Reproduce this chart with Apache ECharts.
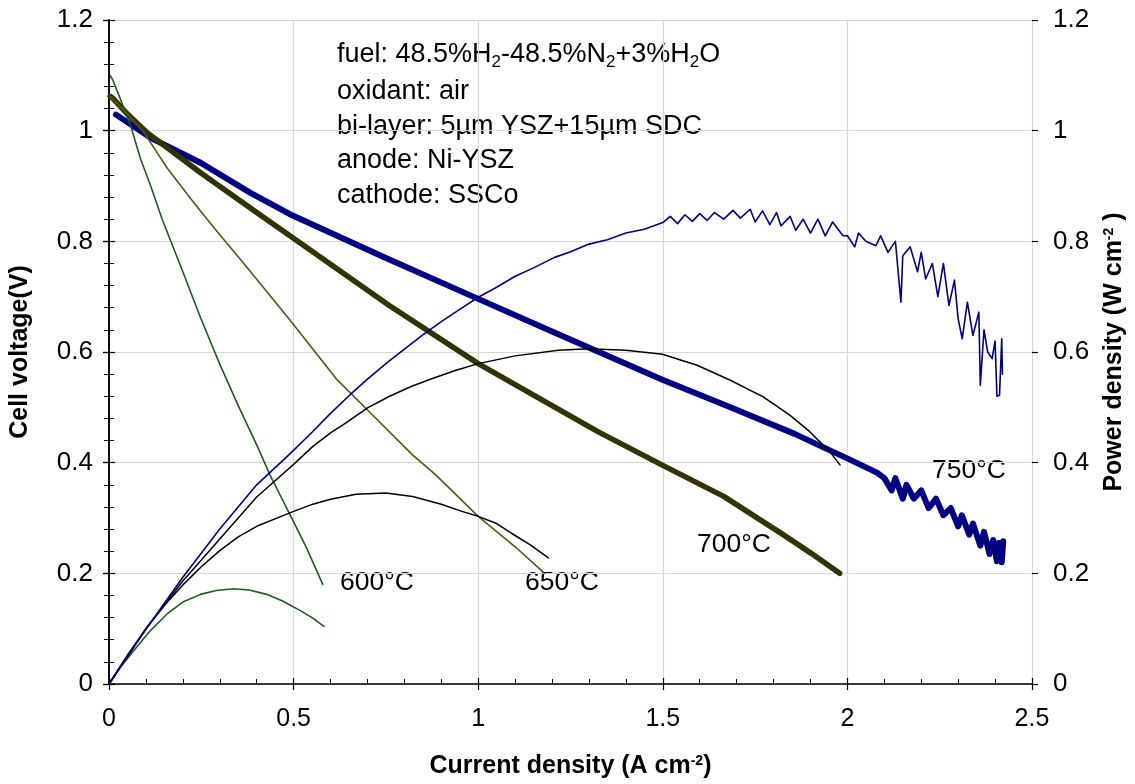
<!DOCTYPE html>
<html>
<head>
<meta charset="utf-8">
<script src="https://cdn.jsdelivr.net/npm/echarts/dist/echarts.min.js"></script>
<style>
html,body{margin:0;padding:0;background:#fff;}
#chart{width:1135px;height:784px;}
</style>
</head>
<body>
<div id="chart"></div>
<script>
// ---------- data ----------
const xTicks = [0, 0.5, 1, 1.5, 2, 2.5];
const yTicks = [0, 0.2, 0.4, 0.6, 0.8, 1, 1.2];

// 600 °C
const i600v = [0.003,0.01,0.028,0.059,0.086,0.113,0.144,0.2,0.248,0.3,0.35,0.4,0.436,0.463,0.5,0.535,0.579];
const v600  = [1.10,1.092,1.062,1.008,0.948,0.9,0.84,0.745,0.662,0.578,0.503,0.432,0.378,0.342,0.293,0.246,0.18];
const i600p = [0,0.03,0.068,0.11,0.158,0.2,0.248,0.29,0.337,0.38,0.427,0.47,0.517,0.55,0.582];
const p600  = [0,0.03,0.061,0.095,0.127,0.148,0.162,0.169,0.172,0.17,0.162,0.15,0.133,0.12,0.104];

// 650 °C
const i650v = [0.003,0.05,0.091,0.113,0.158,0.212,0.252,0.3,0.35,0.42,0.49,0.615,0.705,0.822,0.885,1.0,1.1,1.18];
const v650  = [1.062,1.03,1.0,0.978,0.932,0.885,0.851,0.812,0.772,0.715,0.658,0.552,0.492,0.414,0.378,0.303,0.248,0.2];
const i650p = [0,0.05,0.1,0.15,0.203,0.25,0.3,0.35,0.4,0.463,0.5,0.552,0.6,0.669,0.75,0.822,0.9,0.956,1.0,1.05,1.091,1.14,1.19];
const p650  = [0,0.052,0.1,0.142,0.181,0.212,0.241,0.266,0.285,0.302,0.312,0.325,0.334,0.343,0.345,0.339,0.325,0.312,0.303,0.29,0.272,0.252,0.228];

// 700 °C
const i700v = [0.003,0.01,0.05,0.104,0.248,0.4,0.49,0.759,1.0,1.324,1.5,1.665,1.826,1.9,1.979];
const v700  = [1.062,1.059,1.03,0.996,0.924,0.852,0.81,0.684,0.579,0.456,0.395,0.339,0.27,0.237,0.2];
const i700p = [0,0.1,0.2,0.3,0.4,0.463,0.5,0.55,0.6,0.642,0.7,0.76,0.82,0.876,0.94,1.0,1.1,1.217,1.297,1.4,1.499,1.593,1.683,1.772,1.844,1.898,1.952,1.98];
const p700  = [0,0.1,0.186,0.262,0.338,0.375,0.397,0.428,0.454,0.472,0.499,0.52,0.538,0.552,0.567,0.579,0.593,0.603,0.606,0.603,0.596,0.576,0.549,0.519,0.486,0.456,0.42,0.396];

// 750 °C
const i750v = [0.019,0.113,0.248,0.382,0.49,0.75,1.0,1.2,1.324,1.499,1.683,1.857,2.008,2.08,2.10,2.12,2.13,2.15,2.16,2.18,2.20,2.22,2.24,2.26,2.28,2.30,2.31,2.33,2.34,2.36,2.37,2.385,2.395,2.405,2.41,2.418,2.422];
const v750  = [1.029,0.987,0.942,0.888,0.849,0.77,0.696,0.637,0.601,0.55,0.5,0.452,0.405,0.382,0.372,0.35,0.372,0.335,0.36,0.335,0.35,0.318,0.335,0.305,0.318,0.285,0.305,0.27,0.29,0.25,0.275,0.235,0.26,0.222,0.255,0.22,0.258];
const i750p = [0,0.1,0.2,0.3,0.4,0.49,0.55,0.6,0.65,0.7,0.75,0.8,0.85,0.9,0.95,1.0,1.05,1.1,1.15,1.207,1.25,1.3,1.35,1.4,1.45,1.5,1.52,1.54,1.56,1.58,1.6,1.62,1.64,1.665,1.69,1.71,1.737,1.75,1.77,1.79,1.808,1.82,1.845,1.86,1.88,1.9,1.92,1.94,1.96,1.988,2.0,2.02,2.03,2.05,2.077,2.09,2.11,2.13,2.145,2.15,2.17,2.19,2.2,2.212,2.23,2.245,2.26,2.275,2.29,2.30,2.311,2.325,2.34,2.356,2.36,2.37,2.38,2.392,2.40,2.405,2.412,2.418,2.42];
const p750  = [0,0.099,0.193,0.28,0.36,0.416,0.455,0.489,0.521,0.551,0.579,0.605,0.631,0.655,0.677,0.699,0.717,0.737,0.752,0.771,0.781,0.795,0.803,0.815,0.822,0.834,0.845,0.832,0.848,0.836,0.85,0.838,0.852,0.84,0.856,0.842,0.858,0.835,0.855,0.83,0.852,0.828,0.845,0.82,0.84,0.815,0.84,0.81,0.835,0.81,0.81,0.79,0.815,0.8,0.792,0.81,0.78,0.8,0.69,0.774,0.79,0.745,0.78,0.732,0.76,0.70,0.76,0.684,0.73,0.66,0.624,0.69,0.63,0.672,0.54,0.64,0.6,0.588,0.62,0.52,0.522,0.624,0.56];

const tempLabels = ['600°C','650°C','700°C','750°C'];
const noteLines = ['oxidant: air','bi-layer: 5µm YSZ+15µm SDC','anode: Ni-YSZ','cathode: SSCo'];

// ---------- build ----------
const pairs = (xs, ys) => xs.map((x, k) => [x, ys[k]]);
const FONT = 'Liberation Sans, Arial, sans-serif';
const C750 = '#000080', C700 = '#333300', C650 = '#55551a', C600 = '#1e5a1e';

function line(name, xs, ys, color, width, yIdx, z) {
  return { name, type: 'line', xAxisIndex: 0, yAxisIndex: yIdx, data: pairs(xs, ys),
    showSymbol: false, symbol: 'none', smooth: false, animation: false, z: z,
    lineStyle: { color, width, join: 'round', cap: 'round' } };
}

const chart = echarts.init(document.getElementById('chart'), null, { renderer: 'canvas' });
const axisLine = { show: true, lineStyle: { color: '#000', width: 1.5 } };
const nameRich = {
  a: { fontFamily: FONT, fontSize: 25, fontWeight: 'bold', color: '#000' },
  s: { fontFamily: FONT, fontSize: 14, fontWeight: 'bold', color: '#000', verticalAlign: 'top', lineHeight: 14 }
};
const subRich = {
  a: { fontFamily: FONT, fontSize: 27, color: '#000', lineHeight: 31 },
  b: { fontFamily: FONT, fontSize: 17, color: '#000', lineHeight: 17, verticalAlign: 'bottom' }
};

const option = {
  backgroundColor: '#fff',
  animation: false,
  grid: { left: 108, right: 98, top: 20, bottom: 97, containLabel: false },
  xAxis: [
    { type: 'value', min: xTicks[0], max: xTicks[xTicks.length - 1], interval: 0.5, position: 'bottom',
      axisLine, axisTick: { show: true, inside: true, length: 6, lineStyle: { color: '#000', width: 1.2 } },
      minorTick: { show: true, splitNumber: 5, length: 5, lineStyle: { color: '#000', width: 1 } },
      splitLine: { show: true, lineStyle: { color: '#d6d6d6', width: 1.2 } },
      axisLabel: { margin: 23, formatter: v => String(v), color: '#000', fontFamily: FONT, fontSize: 25 },
      name: '{a|Current density (A cm}{s|-2}{a|)}', nameLocation: 'middle', nameGap: 70,
      nameTextStyle: { rich: nameRich } },
    { type: 'value', min: xTicks[0], max: xTicks[xTicks.length - 1], interval: 0.5, position: 'bottom',
      axisLine: { show: false }, axisLabel: { show: false }, splitLine: { show: false },
      axisTick: { show: true, inside: false, length: 6, lineStyle: { color: '#000', width: 1.2 } } }
  ],
  yAxis: [
    { type: 'value', min: yTicks[0], max: yTicks[yTicks.length - 1], interval: 0.2, position: 'left',
      axisLine, axisTick: { show: true, inside: true, length: 6, lineStyle: { color: '#000', width: 1.2 } },
      minorTick: { show: true, splitNumber: 5, length: 5, lineStyle: { color: '#000', width: 1 } },
      splitLine: { show: true, lineStyle: { color: '#d6d6d6', width: 1.2 } },
      axisLabel: { margin: 16, formatter: v => String(+v.toFixed(1)), color: '#000', fontFamily: FONT, fontSize: 26 },
      name: '{a|Cell voltage(V)}', nameLocation: 'middle', nameRotate: 90, nameGap: 76,
      nameTextStyle: { rich: nameRich } },
    { type: 'value', min: yTicks[0], max: yTicks[yTicks.length - 1], interval: 0.2, position: 'right',
      axisLine, axisTick: { show: true, inside: true, length: 6, lineStyle: { color: '#000', width: 1.2 } },
      minorTick: { show: true, splitNumber: 5, length: 5, lineStyle: { color: '#000', width: 1 } },
      splitLine: { show: false },
      axisLabel: { margin: 21, formatter: v => String(+v.toFixed(1)), color: '#000', fontFamily: FONT, fontSize: 26 },
      name: '{a|Power density (W cm}{s|-2}{a| )}', nameLocation: 'middle', nameRotate: 90, nameGap: 70,
      nameTextStyle: { rich: nameRich } },
    { type: 'value', min: 0, max: 1.2, interval: 0.2, position: 'left',
      axisLine: { show: false }, axisLabel: { show: false }, splitLine: { show: false },
      axisTick: { show: true, inside: false, length: 6, lineStyle: { color: '#000', width: 1.2 } } },
    { type: 'value', min: 0, max: 1.2, interval: 0.2, position: 'right',
      axisLine: { show: false }, axisLabel: { show: false }, splitLine: { show: false },
      axisTick: { show: true, inside: false, length: 6, lineStyle: { color: '#000', width: 1.2 } } }
  ],
  series: [
    line('600 V', i600v, v600, C600, 1.6, 0, 5),
    line('600 P', i600p, p600, C600, 1.6, 1, 5),
    line('650 V', i650v, v650, C650, 1.6, 0, 5),
    line('650 P', i650p, p650, '#000', 1.5, 1, 5),
    line('700 V', i700v, v700, C700, 5.5, 0, 4),
    line('700 P', i700p, p700, '#000', 1.5, 1, 6),
    line('750 V', i750v, v750, C750, 6, 0, 3),
    line('750 P', i750p, p750, C750, 1.6, 1, 6)
  ],
  graphic: [
    { type: 'text', x: 337, y: 55, style: { text: '{a|fuel: 48.5%H}{b|2}{a|-48.5%N}{b|2}{a|+3%H}{b|2}{a|O}', rich: subRich, verticalAlign: 'middle' } },
    ...noteLines.map((t, k) => ({ type: 'text', x: 337, y: [92, 127, 161, 196][k],
      style: { text: t, fontFamily: FONT, fontSize: 27, fill: '#000', verticalAlign: 'middle' } })),
    ...tempLabels.map((t, k) => ({ type: 'text', x: [340, 525, 697, 932][k], y: [583, 583, 545, 471][k],
      style: { text: t, fontFamily: FONT, fontSize: 26.5, fill: '#000', verticalAlign: 'middle' } }))
  ]
};
chart.setOption(option);
</script>
</body>
</html>
